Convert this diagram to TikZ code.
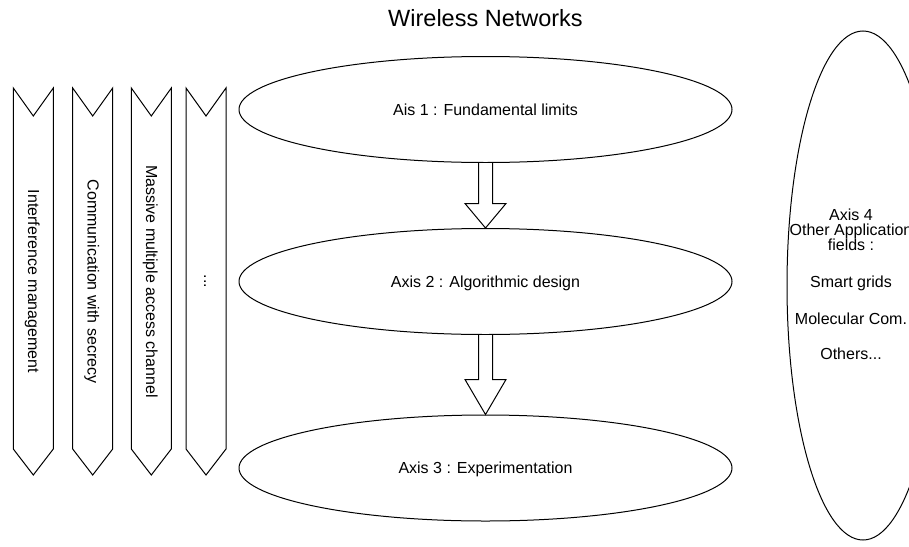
\documentclass[tikz,border=0pt]{standalone}
\usepackage{fontspec}
\setmainfont{Liberation Sans}
\usetikzlibrary{shapes.geometric,calc}
\begin{document}
\begin{tikzpicture}[x=1pt,y=-1pt,line width=1pt,
  shapeline/.style={draw=black,line width=1pt,line join=miter},
  lbl/.style={font=\fontsize{16}{19}\selectfont,inner sep=0pt},
  axis/.style={shapeline,ellipse,inner sep=0pt,minimum width=493pt,minimum height=106pt,
    font=\fontsize{16}{19}\selectfont,text height=11.6pt,text depth=0pt},
  blockarrow/.style={shapeline,fill=white}]
\fill[white] (0,0) rectangle (909,546);
\useasboundingbox (0,0) rectangle (909,546);
\clip (0,0) rectangle (909,546);

% title
\node[font=\fontsize{23.5}{28}\selectfont,inner sep=0pt,anchor=base] (title) at (485.5,26.7) {Wireless Networks};

% chevrons
\foreach \x/\n/\t in {13.3/c1/Interference management,72.7/c2/Communication with secrecy,131.3/c3/Massive multiple access channel}{
  \draw[shapeline] (\x,88) -- (\x+20,116) -- (\x+40,88) -- (\x+40,449) -- (\x+20,475) -- (\x,449) -- cycle;
  \node[lbl,rotate=-90] (\n) at (\x+19,281.5) {\t};
}
\draw[shapeline] (186,88) -- (206,116) -- (226,88) -- (226,449) -- (206,475) -- (186,449) -- cycle;
\node[lbl,rotate=-90] (c4) at (205,281.5) {.{}.{}.};

% axes
\node[axis] (e1) at (485.5,109.5) {Ais 1 : Fundamental limits};
\node[axis] (e2) at (485.5,281.5) {Axis 2 : Algorithmic design};
\node[axis] (e3) at (485.5,468) {Axis 3 : Experimentation};

% block arrows
\draw[blockarrow] ($(e1.south)+(-7,0)$) -- ($(e1.south)+(-7,40.5)$) -- ($(e1.south)+(-20.5,40.5)$)
  -- (e2.north) -- ($(e1.south)+(20.5,40.5)$) -- ($(e1.south)+(7,40.5)$) -- ($(e1.south)+(7,0)$);
\draw[blockarrow] ($(e2.south)+(-7,0)$) -- ($(e2.south)+(-7,44.5)$) -- ($(e2.south)+(-20.5,44.5)$)
  -- (e3.north) -- ($(e2.south)+(20.5,44.5)$) -- ($(e2.south)+(7,44.5)$) -- ($(e2.south)+(7,0)$);

% axis 4
\node[shapeline,ellipse,inner sep=0pt,minimum width=152pt,minimum height=509pt] (e4) at (863,285.5) {};
\node[inner sep=0pt,anchor=north,align=center,
  font={\fontsize{16}{13.9}\selectfont\lineskiplimit=-30pt}] (t4) at (851,208.5)
  {Axis 4\\[1.3pt]Other Application\\[1.3pt]fields :\\[23pt]Smart grids\\[22.7pt]Molecular Com.\\[21.1pt]Others...};
\end{tikzpicture}
\end{document}
